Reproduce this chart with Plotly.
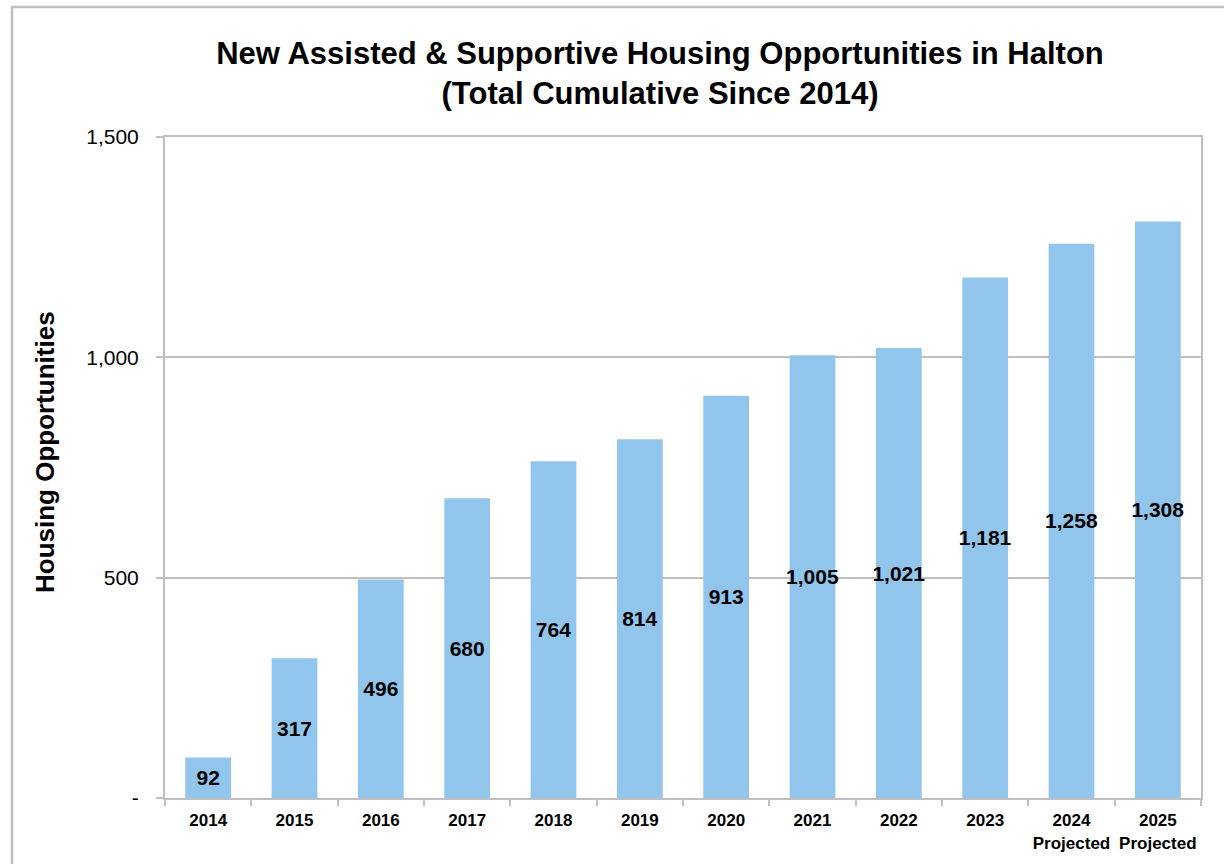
import plotly.graph_objects as go

# Cumulative new assisted & supportive housing opportunities, Halton
years = ["2014", "2015", "2016", "2017", "2018", "2019", "2020",
         "2021", "2022", "2023", "2024", "2025"]
cumulative = [92, 317, 496, 680, 764, 814, 913, 1005, 1021, 1181, 1258, 1308]
year_labels = ["2014", "2015", "2016", "2017", "2018", "2019", "2020",
               "2021", "2022", "2023", "2024<br>Projected", "2025<br>Projected"]
y_ticks = [0, 500, 1000, 1500]
y_tick_text = ["-", "500", "1,000", "1,500"]

FONT = "Liberation Sans, Arial, sans-serif"
GRID = "#BFBFBF"
W, H = 1224, 864
L, R, T, B = 165, 23, 137, 66

fig = go.Figure(
    go.Bar(
        x=years,
        y=cumulative,
        marker=dict(color="#92C5EB", line=dict(width=0)),
        text=[f"{v:,}" for v in cumulative],
        textposition="inside",
        insidetextanchor="middle",
        textangle=0,
        cliponaxis=False,
        textfont=dict(family=FONT, size=21, color="black", weight="bold"),
        hoverinfo="x+y",
    )
)

pw = W - L - R
ph = H - T - B
# outer frame around the whole chart
fig.add_shape(
    type="rect", xref="paper", yref="paper", layer="above",
    x0=(12 - L) / pw, x1=(W + 10 - L) / pw,
    y0=(H - B - (H + 10)) / ph, y1=(H - B - 7) / ph,
    line=dict(color=GRID, width=2.5), fillcolor="rgba(0,0,0,0)",
)

# vertical y-axis title
fig.add_annotation(
    text="<b>Housing Opportunities</b>", textangle=-90,
    xref="paper", yref="paper",
    x=(45 - L) / pw, y=(H - B - 452) / ph,
    xanchor="center", yanchor="middle", showarrow=False,
    font=dict(family=FONT, size=26, color="black"),
)

fig.update_layout(
    width=W, height=H,
    margin=dict(l=L, r=R, t=T, b=B, autoexpand=False),
    paper_bgcolor="white", plot_bgcolor="white",
    bargap=0.47,
    showlegend=False,
    uniformtext=dict(minsize=21, mode="show"),
    font=dict(family=FONT, color="black"),
    title=dict(
        text="<b>New Assisted & Supportive Housing Opportunities in Halton<br>(Total Cumulative Since 2014)</b>",
        font=dict(family=FONT, size=31, color="black"),
        x=660 / W, xanchor="center",
        y=1 - 64 / H, yanchor="middle", yref="container",
    ),
    xaxis=dict(
        type="category", automargin=False,
        tickmode="array", tickvals=years, ticktext=year_labels,
        tickangle=0,
        tickfont=dict(family=FONT, size=17, color="black", weight="bold"),
        tickson="boundaries", ticks="outside", ticklen=6, tickcolor=GRID, tickwidth=2,
        ticklabelstandoff=6,
        showline=True, linecolor=GRID, linewidth=2, mirror=True,
        showgrid=False,
    ),
    yaxis=dict(
        range=[0, 1500], automargin=False,
        tickmode="array", tickvals=y_ticks, ticktext=y_tick_text,
        tickfont=dict(family=FONT, size=21, color="black"),
        ticks="outside", ticklen=7, tickcolor=GRID, tickwidth=2,
        ticklabelstandoff=13,
        showline=True, linecolor=GRID, linewidth=2, mirror=True,
        showgrid=True, gridcolor=GRID, gridwidth=2,
        zeroline=False,
    ),
)

fig.write_html("out.html")
